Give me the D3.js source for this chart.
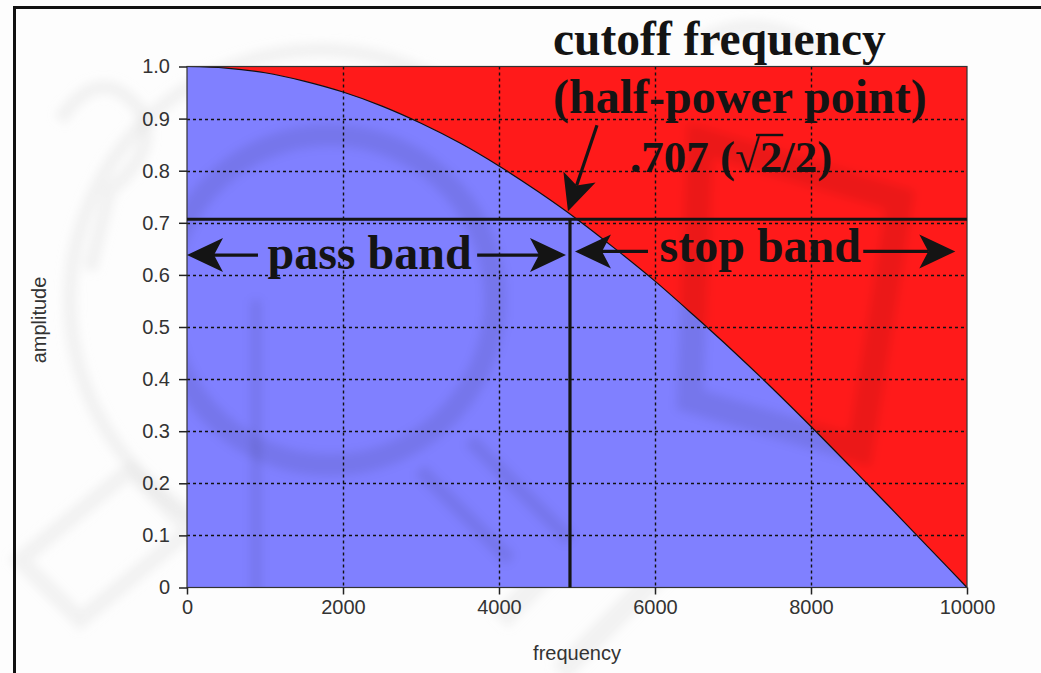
<!DOCTYPE html>
<html>
<head>
<meta charset="utf-8">
<script src="https://cdn.jsdelivr.net/npm/d3@7"></script>
<style>
  html, body { margin: 0; padding: 0; background: #fff; }
  svg { display: block; }
</style>
</head>
<body>
<svg id="chart" width="1041" height="673"></svg>
<script>
// Low-pass filter response: amplitude against frequency (Hz)
const frequency = [0, 500, 1000, 1500, 2000, 2500, 3000, 3500, 4000, 4500, 5000,
                   5500, 6000, 6500, 7000, 7500, 8000, 8500, 9000, 9500, 10000];
const amplitude = [1.0, 0.997, 0.988, 0.972, 0.951, 0.924, 0.891, 0.853, 0.809, 0.760, 0.707,
                   0.649, 0.588, 0.522, 0.454, 0.383, 0.309, 0.233, 0.156, 0.078, 0.0];

// Cutoff (half-power) point
const cutoffLevel = 0.707;
const cutoffFreq = 4910;

// Axis ticks and their labels
const xTicks = [0, 2000, 4000, 6000, 8000, 10000];
const xTickLabels = ["0", "2000", "4000", "6000", "8000", "10000"];
const yTicks = [0, 0.1, 0.2, 0.3, 0.4, 0.5, 0.6, 0.7, 0.8, 0.9, 1.0];
const yTickLabels = ["0", "0.1", "0.2", "0.3", "0.4", "0.5", "0.6", "0.7", "0.8", "0.9", "1.0"];

const svg = d3.select("#chart");
const W = 1041, H = 673;
const plot = { left: 187, right: 967, top: 66.5, bottom: 587.5 };

const x = d3.scaleLinear().domain([0, 10000]).range([plot.left, plot.right]);
const y = d3.scaleLinear().domain([0, 1]).range([plot.bottom, plot.top]);

const data = frequency.map((f, i) => ({ f, a: amplitude[i] }));

const defs = svg.append("defs");
defs.append("filter").attr("id", "soft").attr("x", "-20%").attr("y", "-20%")
  .attr("width", "140%").attr("height", "140%")
  .append("feGaussianBlur").attr("stdDeviation", 5);
defs.append("clipPath").attr("id", "plotClip").append("rect")
  .attr("x", plot.left).attr("y", plot.top)
  .attr("width", plot.right - plot.left).attr("height", plot.bottom - plot.top);

// Page background with a faint seal watermark
svg.append("rect").attr("width", W).attr("height", H).attr("fill", "#fdfdfd");
const wm = svg.append("g").attr("filter", "url(#soft)").attr("fill", "none")
  .attr("stroke", "#dcdcdc").attr("stroke-opacity", 0.35);
wm.append("circle").attr("cx", 320).attr("cy", 300).attr("r", 250).attr("stroke-width", 14);
wm.append("path").attr("d", "M60,120 q40,-60 80,-10 q20,40 -30,80 l-20,80").attr("stroke-width", 14);
wm.append("path").attr("d", "M20,560 l110,-90 l60,60 l-110,90 z").attr("stroke-width", 16);
wm.append("path").attr("d", "M500,620 l120,-120 M560,673 l150,-150").attr("stroke-width", 22);
wm.append("path").attr("d", "M700,40 q60,-30 120,10").attr("stroke-width", 14);

// Stop band (red) fills the whole plot, pass band (blue) sits under the curve
svg.append("rect")
  .attr("x", plot.left).attr("y", plot.top)
  .attr("width", plot.right - plot.left).attr("height", plot.bottom - plot.top)
  .attr("fill", "#ff1a1a");

const area = d3.area()
  .x(d => x(d.f)).y0(y(0)).y1(d => y(d.a))
  .curve(d3.curveMonotoneX);
svg.append("path").datum(data).attr("d", area).attr("fill", "#8080ff");

// Darker shading from the watermark over the plot
const shade = svg.append("g").attr("clip-path", "url(#plotClip)")
  .append("g").attr("filter", "url(#soft)").attr("fill", "none")
  .attr("stroke", "#000").attr("stroke-opacity", 0.08);
shade.append("circle").attr("cx", 330).attr("cy", 300).attr("r", 165).attr("stroke-width", 22);
shade.append("line").attr("x1", 256).attr("y1", 300).attr("x2", 256).attr("y2", 600).attr("stroke-width", 10);
shade.append("path").attr("d", "M700,140 l200,60 l-40,250 l-170,-50 z").attr("stroke-width", 26);
shade.append("path").attr("d", "M420,470 l90,90 M470,440 l100,100").attr("stroke-width", 14);

// Dashed grid
const grid = svg.append("g").attr("stroke", "#111").attr("stroke-width", 1.4)
  .attr("stroke-dasharray", "3,3");
grid.selectAll("line.h").data(yTicks.filter(v => v > 0 && v < 1)).join("line")
  .attr("x1", plot.left).attr("x2", plot.right)
  .attr("y1", d => Math.round(y(d)) + 0.5).attr("y2", d => Math.round(y(d)) + 0.5);
grid.selectAll("line.v").data(xTicks.filter(v => v > 0 && v < 10000)).join("line")
  .attr("y1", plot.top).attr("y2", plot.bottom)
  .attr("x1", d => Math.round(x(d)) + 0.5).attr("x2", d => Math.round(x(d)) + 0.5);

// Response curve
const line = d3.line().x(d => x(d.f)).y(d => y(d.a)).curve(d3.curveMonotoneX);
svg.append("path").datum(data).attr("d", line)
  .attr("fill", "none").attr("stroke", "#111").attr("stroke-width", 1.2);

// Plot frame
svg.append("rect")
  .attr("x", plot.left).attr("y", plot.top)
  .attr("width", plot.right - plot.left).attr("height", plot.bottom - plot.top)
  .attr("fill", "none").attr("stroke", "#333").attr("stroke-width", 1.2);

// Axes
const tickFont = "'Liberation Sans', Arial, sans-serif";
const yAxis = svg.append("g").attr("transform", `translate(${plot.left},0)`)
  .call(d3.axisLeft(y).tickValues(yTicks).tickFormat((d, i) => yTickLabels[i])
    .tickSize(8).tickPadding(9));
const xAxis = svg.append("g").attr("transform", `translate(0,${plot.bottom})`)
  .call(d3.axisBottom(x).tickValues(xTicks).tickFormat((d, i) => xTickLabels[i])
    .tickSize(7).tickPadding(5));
[xAxis, yAxis].forEach(ax => {
  ax.select(".domain").remove();
  ax.selectAll(".tick line").attr("stroke", "#222").attr("stroke-width", 1.5);
  ax.selectAll(".tick text").attr("fill", "#333")
    .style("font-family", tickFont).style("font-size", "20px");
});

svg.append("text").attr("x", 577).attr("y", 660).attr("text-anchor", "middle")
  .style("font-family", tickFont).style("font-size", "20px").attr("fill", "#333")
  .text("frequency");
svg.append("text").attr("transform", "translate(46,320) rotate(-90)").attr("text-anchor", "middle")
  .style("font-family", tickFont).style("font-size", "20px").attr("fill", "#333")
  .text("amplitude");

// Cutoff guide lines
const ink = "#141414";
svg.append("line")
  .attr("x1", plot.left).attr("x2", plot.right)
  .attr("y1", y(cutoffLevel)).attr("y2", y(cutoffLevel))
  .attr("stroke", ink).attr("stroke-width", 3);
svg.append("line")
  .attr("x1", x(cutoffFreq)).attr("x2", x(cutoffFreq))
  .attr("y1", y(cutoffLevel)).attr("y2", y(0))
  .attr("stroke", ink).attr("stroke-width", 3.2);

// Arrows: shaft plus notched head
function arrow(x0, y0, x1, y1) {
  const ang = Math.atan2(y1 - y0, x1 - x0);
  const L = 36, Wd = 17, N = 27;
  const g = svg.append("g");
  g.append("line")
    .attr("x1", x0).attr("y1", y0)
    .attr("x2", x1 - Math.cos(ang) * N).attr("y2", y1 - Math.sin(ang) * N)
    .attr("stroke", ink).attr("stroke-width", 3.2);
  const pts = [[0, 0], [-L, -Wd], [-N, 0], [-L, Wd]].map(([u, v]) => [
    x1 + u * Math.cos(ang) - v * Math.sin(ang),
    y1 + u * Math.sin(ang) + v * Math.cos(ang)
  ]);
  g.append("polygon").attr("points", pts.map(p => p.join(",")).join(" ")).attr("fill", ink);
}

const serif = "'Liberation Serif', 'Times New Roman', serif";
function label(txt, xp, yp, size, anchor) {
  return svg.append("text").attr("x", xp).attr("y", yp)
    .attr("text-anchor", anchor || "start")
    .style("font-family", serif).style("font-weight", "bold")
    .style("font-size", size + "px").attr("fill", ink).text(txt);
}

// Pass band
const passY = y(0.638);
arrow(x(910), passY, x(0), passY);
arrow(x(3720), passY, x(cutoffFreq) - 4, passY);
label("pass band", x(2340), passY + 14, 48, "middle");

// Stop band
const stopY = y(0.645);
arrow(x(5910), stopY, x(cutoffFreq) + 5, stopY);
arrow(x(8670), stopY, x(9850), stopY);
label("stop band", x(7350), stopY + 11, 48, "middle");

// Cutoff annotation
label("cutoff frequency", 553, 55, 47.5);
label("(half-power point)", 553, 113, 48);
const val = label(".707 (\u221A2/2)", 630, 172, 45);
{
  // vinculum over the radicand
  const node = val.node();
  const rad = node.getExtentOfChar(6), two = node.getExtentOfChar(7);
  svg.append("line")
    .attr("x1", rad.x + rad.width * 0.85).attr("x2", two.x + two.width + 1)
    .attr("y1", 135).attr("y2", 135)
    .attr("stroke", ink).attr("stroke-width", 2.4);
}
const tipX = x(cutoffFreq) - 2, tipY = y(cutoffLevel) - 8;
arrow(tipX + 29, tipY - 86, tipX, tipY);

// Outer frame
svg.append("path").attr("d", `M14.5,${H} L14.5,7.5 L${W},7.5`)
  .attr("fill", "none").attr("stroke", "#111").attr("stroke-width", 3);
</script>
</body>
</html>
